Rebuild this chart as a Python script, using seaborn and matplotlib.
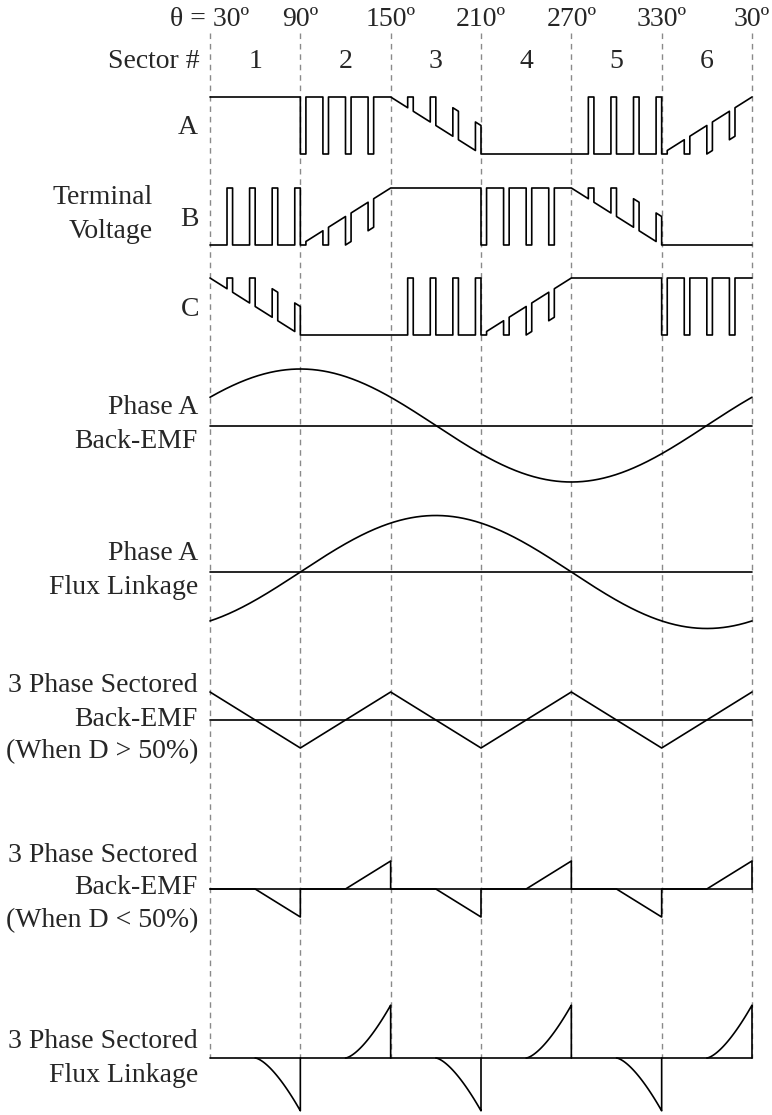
import matplotlib
matplotlib.use("Agg")
import matplotlib.pyplot as plt
import seaborn as sns
import pandas as pd
import numpy as np

# ---- data ----
sector_edges = [30, 90, 150, 210, 270, 330, 390]
angle_labels = ['θ = 30º', '90º', '150º', '210º', '270º', '330º', '30º']
sector_names = ['1', '2', '3', '4', '5', '6']

# switching state of each terminal in sectors 1..6
terminal_modes = {
    'A': ['high', 'pwm_low', 'ramp_down', 'low', 'pwm_high', 'ramp_up'],
    'B': ['pwm_high', 'ramp_up', 'high', 'pwm_low', 'ramp_down', 'low'],
    'C': ['ramp_down', 'low', 'pwm_high', 'ramp_up', 'high', 'pwm_low'],
}
pwm_periods = 4          # pulses per sector
pulse_width = 3.7        # deg
float_offset = 0.5       # step of floating phase during pulse

backemf_peak_deg = 90    # phase A back-EMF peak
flux_peak_deg = 180      # phase A flux linkage peak

# sectored back-EMF, D > 50 %
sect_hi_deg = [30, 90, 150, 210, 270, 330, 390]
sect_hi_val = [0.5, -0.5, 0.5, -0.5, 0.5, -0.5, 0.5]

# sectored back-EMF, D < 50 %
sect_lo_deg = [30, 60, 90, 90, 120, 150, 150, 180, 210, 210, 240, 270, 270,
               300, 330, 330, 360, 390, 390]
sect_lo_val = [0, 0, -0.5, 0, 0, 0.5, 0, 0, -0.5, 0, 0, 0.5, 0,
               0, -0.5, 0, 0, 0.5, 0]

# sectored flux linkage
flux_dip_starts = [60, 180, 300]
flux_rise_starts = [120, 240, 360]
flux_span = 30
flux_depth = 0.96
flux_shape = 1.5


def terminal_trace(modes):
    pts = []
    sub = 60 / pwm_periods
    w = pulse_width
    for i, mode in enumerate(modes):
        s = sector_edges[i]
        if mode == 'high':
            pts += [(s, 1), (s + 60, 1)]
        elif mode == 'low':
            pts += [(s, 0), (s + 60, 0)]
        elif mode == 'pwm_low':
            for k in range(pwm_periods):
                t0 = s + k * sub
                pts += [(t0, 1), (t0, 0), (t0 + w, 0), (t0 + w, 1), (t0 + sub, 1)]
        elif mode == 'pwm_high':
            for k in range(pwm_periods):
                t0 = s + k * sub
                pts += [(t0, 0), (t0 + sub - w, 0), (t0 + sub - w, 1),
                        (t0 + sub, 1), (t0 + sub, 0)]
        elif mode == 'ramp_down':
            r = lambda t: 1 - (t - s) / 60
            for k in range(pwm_periods):
                t0 = s + k * sub
                t1 = t0 + sub - w
                pts += [(t0, r(t0)), (t1, r(t1))]
                for t in np.linspace(t1, t0 + sub, 8):
                    pts.append((t, min(1, r(t) + float_offset)))
                pts.append((t0 + sub, r(t0 + sub)))
        elif mode == 'ramp_up':
            r = lambda t: (t - s) / 60
            for k in range(pwm_periods):
                t0 = s + k * sub
                t1 = t0 + w
                for t in np.linspace(t0, t1, 8):
                    pts.append((t, max(0, r(t) - float_offset)))
                pts += [(t1, r(t1)), (t0 + sub, r(t0 + sub))]
    return pts


# ---- layout (pixels of the 772x1115 canvas) ----
W, H = 772, 1115
x0_px, x1_px = 210, 752
deg_per_px = (sector_edges[-1] - sector_edges[0]) / (x1_px - x0_px)


def px2deg(px):
    return sector_edges[0] + (px - x0_px) * deg_per_px


rows = {
    'A': (154, 57), 'B': (245, 57), 'C': (335, 57),
    'emf': (425.5, 56.5), 'flux': (572, 56.5),
    'sect_hi': (720, 56), 'sect_lo': (889, 56), 'flux_sect': (1058, 55),
}

sns.set_theme(style='white')
plt.rcParams['font.family'] = ['Liberation Serif', 'DejaVu Serif']

fig = plt.figure(figsize=(W / 100, H / 100), dpi=100)
ax = fig.add_axes([0, 0, 1, 1])
ax.set_xlim(px2deg(0), px2deg(W))
ax.set_ylim(H, 0)
ax.axis('off')

line_kw = dict(color='black', linewidth=1.2, estimator=None, sort=False,
               legend=False, ax=ax)


def draw(xs, vals, row):
    base, scale = rows[row]
    df = pd.DataFrame({'deg': xs, 'y': [base - v * scale for v in vals]})
    sns.lineplot(data=df, x='deg', y='y', **line_kw)


def baseline(row):
    draw([sector_edges[0], sector_edges[-1]], [0, 0], row)


# sector guide lines
for e in sector_edges:
    ax.plot([e, e], [33, 1058], color='#8a8a8a', linewidth=1.0,
            linestyle=(0, (4, 3.5)), zorder=0)

# terminal voltages
for ph in ['A', 'B', 'C']:
    pts = terminal_trace(terminal_modes[ph])
    draw([p[0] for p in pts], [p[1] for p in pts], ph)

# phase A back-EMF and flux linkage
th = np.linspace(sector_edges[0], sector_edges[-1], 721)
baseline('emf')
draw(th, np.cos(np.radians(th - backemf_peak_deg)), 'emf')
baseline('flux')
draw(th, np.cos(np.radians(th - flux_peak_deg)), 'flux')

# sectored back-EMF
baseline('sect_hi')
draw(sect_hi_deg, sect_hi_val, 'sect_hi')
baseline('sect_lo')
draw(sect_lo_deg, sect_lo_val, 'sect_lo')

# sectored flux linkage
baseline('flux_sect')
u = np.linspace(0, 1, 60)
for s in flux_dip_starts:
    xs = list(s + u * flux_span) + [s + flux_span]
    vs = list(-flux_depth * u ** flux_shape) + [0]
    draw(xs, vs, 'flux_sect')
for s in flux_rise_starts:
    xs = list(s + u * flux_span) + [s + flux_span]
    vs = list(flux_depth * u ** flux_shape) + [0]
    draw(xs, vs, 'flux_sect')

# ---- text ----
fs = 20
for e, lab in zip(sector_edges, angle_labels):
    ax.text(e, 19, lab, ha='center', va='center', fontsize=fs)
for i, lab in enumerate(sector_names):
    mid = (sector_edges[i] + sector_edges[i + 1]) / 2
    ax.text(mid, 61, lab, ha='center', va='center', fontsize=fs)

left_labels = [
    ('Sector #', 200, 61), ('A', 198, 128), ('B', 199, 219), ('C', 199, 310),
    ('Terminal', 153, 198), ('Voltage', 153, 231),
    ('Phase A', 198, 408), ('Back-EMF', 198, 441),
    ('Phase A', 198, 554), ('Flux Linkage', 198, 587),
    ('3 Phase Sectored', 198, 686), ('Back-EMF', 198, 719), ('(When D > 50%)', 198, 752),
    ('3 Phase Sectored', 198, 855), ('Back-EMF', 198, 888), ('(When D < 50%)', 198, 921),
    ('3 Phase Sectored', 198, 1042), ('Flux Linkage', 198, 1075),
]
for txt, xp, yp in left_labels:
    ax.text(px2deg(xp), yp, txt, ha='right', va='center', fontsize=fs)

fig.savefig('out.png', dpi=100)
